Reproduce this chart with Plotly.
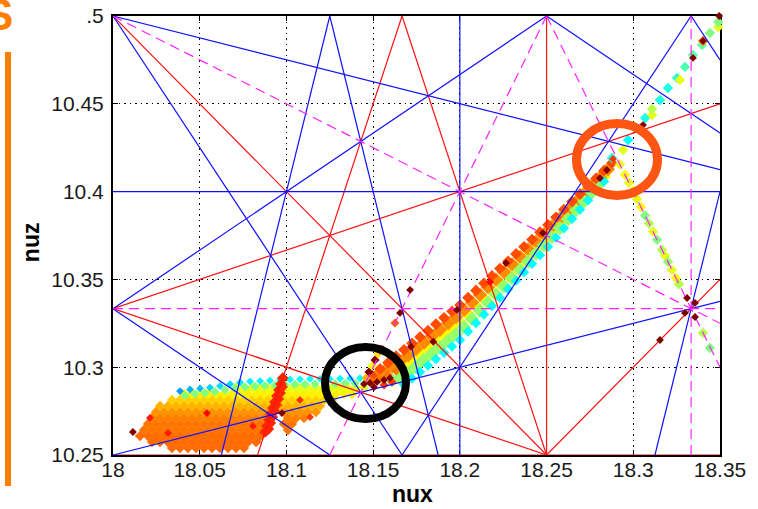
import plotly.graph_objects as go

# ---------------- axis ranges & ticks ----------------
NUX_RANGE = [18.0, 18.35]
NUZ_RANGE = [10.25, 10.5]
x_tickvals = [18.0, 18.05, 18.1, 18.15, 18.2, 18.25, 18.3, 18.35]
x_ticktext = ["18", "18.05", "18.1", "18.15", "18.2", "18.25", "18.3", "18.35"]
y_tickvals = [10.25, 10.3, 10.35, 10.4, 10.45, 10.5]
y_ticktext = ["10.25", "10.3", "10.35", "10.4", "10.45", ".5"]

# ---------------- resonance lines  m*nux + n*nuz = p ----------------
res_order3 = [(3, 0, 55), (0, 3, 31), (1, 2, 39), (2, 1, 47), (2, -1, 26)]
res_order4 = [(4, 0, 73), (0, 4, 41), (3, 1, 65), (3, -1, 44), (1, 3, 49),
              (1, -3, -13), (2, 2, 57), (2, -2, 16)]
res_order5 = [(5, 0, 91), (0, 5, 52), (4, 1, 83), (4, -1, 62), (4, -1, 63),
              (1, 4, 60), (1, -4, -23), (3, 2, 75), (3, 2, 76), (3, -2, 34),
              (2, 3, 67), (2, 3, 68), (2, -3, 5)]

# ---------------- frequency-map points (diffusion index 0..1, jet) -------------
# lower-left footprint: rows of constant nuz
blobA_row_nuz = [10.2540, 10.2574, 10.2608, 10.2642, 10.2677, 10.2711,
                 10.2745, 10.2779, 10.2813, 10.2847, 10.2882]
blobA_row_nux = [
    [18.0340, 18.0386, 18.0432, 18.0479, 18.0525, 18.0571, 18.0617, 18.0663, 18.0709, 18.0755],
    [18.0225, 18.0271, 18.0317, 18.0363, 18.0409, 18.0456, 18.0502, 18.0548, 18.0594, 18.0640,
     18.0686, 18.0732, 18.0778, 18.0825],
    [18.0156, 18.0202, 18.0248, 18.0294, 18.0340, 18.0386, 18.0432, 18.0479, 18.0525, 18.0571,
     18.0617, 18.0663, 18.0709, 18.0755, 18.0801, 18.0848],
    [18.0179, 18.0225, 18.0271, 18.0317, 18.0363, 18.0409, 18.0456, 18.0502, 18.0548, 18.0594,
     18.0640, 18.0686, 18.0732, 18.0778, 18.0825, 18.0871, 18.1009],
    [18.0202, 18.0248, 18.0294, 18.0340, 18.0386, 18.0432, 18.0479, 18.0525, 18.0571, 18.0617,
     18.0663, 18.0709, 18.0755, 18.0801, 18.0848, 18.0894, 18.0986, 18.1032],
    [18.0225, 18.0271, 18.0317, 18.0363, 18.0409, 18.0456, 18.0502, 18.0548, 18.0594, 18.0640,
     18.0686, 18.0732, 18.0778, 18.0825, 18.0871, 18.1009, 18.1055, 18.1101],
    [18.0248, 18.0294, 18.0340, 18.0386, 18.0432, 18.0479, 18.0525, 18.0571, 18.0617, 18.0663,
     18.0709, 18.0755, 18.0801, 18.0848, 18.0894, 18.0986, 18.1032, 18.1078, 18.1124, 18.1170],
    [18.0271, 18.0317, 18.0363, 18.0409, 18.0456, 18.0502, 18.0548, 18.0594, 18.0640, 18.0686,
     18.0732, 18.0778, 18.0825, 18.0871, 18.0917, 18.0963, 18.1009, 18.1055, 18.1101, 18.1147,
     18.1194],
    [18.0340, 18.0386, 18.0432, 18.0479, 18.0525, 18.0571, 18.0617, 18.0663, 18.0709, 18.0755,
     18.0801, 18.0848, 18.0894, 18.0940, 18.0986, 18.1032, 18.1078, 18.1124, 18.1170, 18.1217,
     18.1263],
    [18.0409, 18.0456, 18.0502, 18.0548, 18.0594, 18.0640, 18.0686, 18.0732, 18.0778, 18.0825,
     18.0871, 18.0917, 18.0963, 18.1009, 18.1055, 18.1101, 18.1147, 18.1194, 18.1240, 18.1286,
     18.1332, 18.1378],
    [18.0709, 18.0755, 18.0801, 18.0848, 18.0894, 18.0940, 18.0986, 18.1032, 18.1078, 18.1124,
     18.1170, 18.1217, 18.1263, 18.1309, 18.1355, 18.1401, 18.1447],
]
blobA_row_col = [0.77, 0.77, 0.77, 0.76, 0.76, 0.75, 0.73, 0.70, 0.67, 0.64, 0.60]

# upper edge of the footprint (cyan) and the row just below (green-yellow)
edge_nux = [18.0386, 18.0444, 18.0502, 18.0559, 18.0617, 18.0675, 18.0732, 18.0790, 18.0848, 18.0905,
            18.0963, 18.1021, 18.1078, 18.1136, 18.1194, 18.1251, 18.1309, 18.1367, 18.1424, 18.1482]
edge_nuz = [10.2864, 10.2873, 10.2879, 10.2884, 10.2893, 10.2904, 10.2913, 10.2919, 10.2921, 10.2924,
            10.2927, 10.2930, 10.2931, 10.2933, 10.2933, 10.2933, 10.2935, 10.2936, 10.2937, 10.2938]
edge_col = [0.28, 0.30, 0.31, 0.33, 0.34, 0.34, 0.35, 0.36, 0.36, 0.37,
            0.37, 0.38, 0.38, 0.38, 0.38, 0.38, 0.38, 0.38, 0.38, 0.36]
sub_nux = [18.0415, 18.0473, 18.0530, 18.0588, 18.0646, 18.0703, 18.0761, 18.0819, 18.0876, 18.0934,
           18.0992, 18.1049, 18.1107, 18.1165, 18.1222, 18.1280, 18.1338, 18.1395, 18.1453]
sub_nuz = [10.2839, 10.2847, 10.2853, 10.2860, 10.2870, 10.2880, 10.2887, 10.2891, 10.2894, 10.2897,
           10.2900, 10.2902, 10.2903, 10.2904, 10.2904, 10.2905, 10.2907, 10.2908, 10.2909]

# streak trapped on 3nux - nuz = 44
streak_nux = [18.0877, 18.0888, 18.0900, 18.0911, 18.0923, 18.0934, 18.0945, 18.0957, 18.0968, 18.0979,
              18.0896, 18.0907, 18.0918, 18.0930, 18.0941, 18.0953, 18.0964, 18.0975]
streak_nuz = [10.2631, 10.2665, 10.2699, 10.2733, 10.2768, 10.2802, 10.2836, 10.2870, 10.2904, 10.2938,
              10.2648, 10.2682, 10.2716, 10.2750, 10.2785, 10.2819, 10.2853, 10.2887]

# diagonal band (five lanes across its width)
band_even_nux = [18.1493, 18.1540, 18.1586, 18.1632, 18.1678, 18.1724, 18.1770, 18.1816, 18.1862, 18.1909,
                 18.1955, 18.2001, 18.2047, 18.2093, 18.2139, 18.2185, 18.2231, 18.2278, 18.2324, 18.2370,
                 18.2416, 18.2462, 18.2508, 18.2554, 18.2600, 18.2647, 18.2693, 18.2739, 18.2785, 18.2831,
                 18.2877]
lane0_nuz = [10.2953, 10.2990, 10.3026, 10.3063, 10.3099, 10.3136, 10.3172, 10.3208, 10.3245, 10.3281,
             10.3318, 10.3354, 10.3396, 10.3437, 10.3478, 10.3520, 10.3562, 10.3603, 10.3645, 10.3686,
             10.3727, 10.3769, 10.3810, 10.3854, 10.3898, 10.3943, 10.3986, 10.4031, 10.4075, 10.4119,
             10.4163]
lane2_nuz = [None, None, None, None, 10.2999, 10.3036, 10.3072, 10.3109, 10.3145, 10.3182,
             10.3218, 10.3255, 10.3300, 10.3345, 10.3389, 10.3434, 10.3479, 10.3524, 10.3569, 10.3613,
             10.3658, 10.3703, 10.3748, 10.3796, 10.3845, 10.3894, 10.3942, 10.3991, 10.4040, 10.4088,
             None]
lane4_nuz = [None, None, None, None, 10.2900, 10.2936, 10.2973, 10.3009, 10.3046, 10.3082,
             10.3118, 10.3155, 10.3203, 10.3252, 10.3300, 10.3348, 10.3396, 10.3445, 10.3493, 10.3541,
             10.3589, 10.3638, 10.3686, 10.3738, 10.3791, 10.3845, 10.3898, 10.3951, 10.4005, 10.4058,
             None]
band_odd_nux = [18.1516, 18.1563, 18.1609, 18.1655, 18.1701, 18.1747, 18.1793, 18.1839, 18.1885, 18.1932,
                18.1978, 18.2024, 18.2070, 18.2116, 18.2162, 18.2208, 18.2255, 18.2301, 18.2347, 18.2393,
                18.2439, 18.2485, 18.2531, 18.2577, 18.2624, 18.2670, 18.2716, 18.2762, 18.2808, 18.2854]
lane1_nuz = [10.2949, 10.2976, 10.3005, 10.3034, 10.3067, 10.3104, 10.3140, 10.3177, 10.3213, 10.3250,
             10.3286, 10.3326, 10.3369, 10.3412, 10.3456, 10.3499, 10.3542, 10.3585, 10.3628, 10.3671,
             10.3715, 10.3757, 10.3802, 10.3848, 10.3895, 10.3941, 10.3987, 10.4034, 10.4080, 10.4127]
lane3_nuz = [None, None, 10.2927, 10.2940, 10.2968, 10.3004, 10.3041, 10.3077, 10.3114, 10.3150,
             10.3187, 10.3228, 10.3275, 10.3321, 10.3368, 10.3415, 10.3461, 10.3507, 10.3554, 10.3601,
             10.3647, 10.3694, 10.3741, 10.3792, 10.3843, 10.3895, 10.3945, 10.3997, 10.4047, None]
lane_col = [0.80, 0.74, 0.63, 0.52, 0.38]

# junction inside the black circle and the streak along 2nux - nuz = 26
junction_nux = [18.1493, 18.1540, 18.1586, 18.1632, 18.1563, 18.1609,
                18.1459, 18.1476, 18.1493, 18.1511, 18.1528, 18.1545, 18.1626]
junction_nuz = [10.2917, 10.2936, 10.2957, 10.2978, 10.2899, 10.2916,
                10.2938, 10.2973, 10.3007, 10.3041, 10.3075, 10.3104, 10.3252]
junction_col = [0.76, 0.76, 0.76, 0.76, 0.82, 0.82,
                0.70, 1.00, 0.62, 1.00, 0.65, 0.80, 0.78]

# tail going up-right from the band tip
tailU_nux = [18.2877, 18.2941, 18.2970, 18.3068, 18.3108, 18.3108, 18.3154, 18.3200, 18.3252, 18.3269,
             18.3298, 18.3344, 18.3396, 18.3402, 18.3442, 18.3490, 18.3490]
tailU_nuz = [10.4191, 10.4237, 10.4294, 10.4419, 10.4436, 10.4470, 10.4522, 10.4590, 10.4647, 10.4636,
             10.4710, 10.4778, 10.4835, 10.4858, 10.4903, 10.4937, 10.4966]
tailU_col = [0.40, 0.60, 0.38, 0.40, 0.60, 0.55, 0.40, 0.40, 0.42, 0.60,
             0.45, 0.47, 0.47, 0.75, 0.50, 0.60, 0.50]

# tail going down-right along 2nux + nuz = 47
tailD_nux = [18.2923, 18.2952, 18.2975, 18.2998, 18.3021, 18.3044, 18.3068, 18.3091, 18.3114, 18.3137,
             18.3166, 18.3183, 18.3200, 18.3223, 18.3246, 18.3264, 18.3402, 18.3442]
tailD_nuz = [10.4154, 10.4096, 10.4050, 10.4004, 10.3958, 10.3912, 10.3864, 10.3818, 10.3772, 10.3726,
             10.3668, 10.3634, 10.3600, 10.3554, 10.3508, 10.3472, 10.3195, 10.3109]
tailD_col = [0.60, 0.62, 0.60, 0.62, 0.60, 0.62, 0.50, 0.55, 0.60, 0.50,
             0.55, 0.60, 0.52, 0.60, 0.62, 0.55, 0.55, 0.50]

# isolated strongly diffusive points
hot_nux = [18.0115, 18.0213, 18.0317, 18.0542, 18.0807, 18.0974, 18.1078, 18.1136,
           18.1447, 18.1482, 18.1522, 18.1563, 18.1505, 18.1597,
           18.1655, 18.1713, 18.1718, 18.1847, 18.1984, 18.2174, 18.2266, 18.2479,
           18.2808, 18.2848, 18.2883, 18.3056, 18.3344, 18.3402, 18.3495,
           18.3310, 18.3356, 18.3298, 18.3356, 18.3154]
hot_nuz = [10.2631, 10.2711, 10.2625, 10.2739, 10.2665, 10.2739, 10.2813, 10.2716,
           10.2904, 10.2910, 10.2916, 10.2927, 10.2887, 10.2938,
           10.3309, 10.3440, 10.3117, 10.3145, 10.3326, 10.3485, 10.3593, 10.3764,
           10.4077, 10.4123, 10.4186, 10.4379, 10.4761, 10.4858, 10.5000,
           10.3394, 10.3366, 10.3309, 10.3286, 10.3155]
hot_col = [1.00, 0.85, 0.85, 0.88, 0.85, 1.00, 0.83, 0.82,
           1.00, 1.00, 1.00, 1.00, 1.00, 1.00,
           1.00, 1.00, 1.00, 1.00, 1.00, 0.88, 1.00, 1.00,
           1.00, 1.00, 0.82, 1.00, 1.00, 1.00, 1.00,
           1.00, 1.00, 1.00, 1.00, 1.00]

# ---------------- styling ----------------
JET = [[0.0, "rgb(0,0,143)"], [0.125, "rgb(0,0,255)"], [0.375, "rgb(0,255,255)"],
       [0.625, "rgb(255,255,0)"], [0.875, "rgb(255,0,0)"], [1.0, "rgb(128,0,0)"]]
FONT = "Liberation Sans, Arial, Helvetica, sans-serif"

fig = go.Figure()


def add_pts(x, y, c, size, clip=True):
    fig.add_trace(go.Scatter(
        x=x, y=y, mode="markers", cliponaxis=clip, showlegend=False, hoverinfo="skip",
        marker=dict(symbol="diamond", size=size, color=c, colorscale=JET,
                    cmin=0, cmax=1, line=dict(width=0))))


# footprint rows
ax, ay, ac = [], [], []
for nz, row, col in zip(blobA_row_nuz, blobA_row_nux, blobA_row_col):
    for nx in row:
        ax.append(nx)
        ay.append(nz)
        ac.append(col)
add_pts(ax, ay, ac, 8)
add_pts(sub_nux, sub_nuz, [0.5] * len(sub_nux), 7)
add_pts(edge_nux, edge_nuz, edge_col, 6)

# band lanes
add_pts(band_even_nux, lane2_nuz, [lane_col[2]] * len(band_even_nux), 11)
add_pts(band_odd_nux, lane1_nuz, [lane_col[1]] * len(band_odd_nux), 11)
add_pts(band_odd_nux, lane3_nuz, [lane_col[3]] * len(band_odd_nux), 11)
add_pts(band_even_nux, lane0_nuz, [lane_col[0]] * len(band_even_nux), 9)
add_pts(band_even_nux, lane4_nuz, [lane_col[4]] * len(band_even_nux), 8)

add_pts(streak_nux, streak_nuz, [0.84] * len(streak_nux), 9)
add_pts(junction_nux, junction_nuz, junction_col, 7)
add_pts(tailU_nux, tailU_nuz, tailU_col, 8, clip=False)
add_pts(tailD_nux, tailD_nuz, tailD_col, 8)


# resonance lines clipped to the window
def segment(m, n, p):
    x0, x1 = NUX_RANGE
    y0, y1 = NUZ_RANGE
    pts = []
    if n != 0:
        for x in (x0, x1):
            y = (p - m * x) / n
            if y0 - 1e-9 <= y <= y1 + 1e-9:
                pts.append((x, y))
    if m != 0:
        for y in (y0, y1):
            x = (p - n * y) / m
            if x0 - 1e-9 <= x <= x1 + 1e-9:
                pts.append((x, y))
    uniq = []
    for pt in pts:
        if all(abs(pt[0] - q[0]) > 1e-7 or abs(pt[1] - q[1]) > 1e-7 for q in uniq):
            uniq.append(pt)
    if len(uniq) < 2:
        return None
    uniq.sort()
    return uniq[0], uniq[-1]


def add_lines(res, color, dash, width):
    xs, ys = [], []
    for m, n, p in res:
        s = segment(m, n, p)
        if s is None:
            continue
        xs += [s[0][0], s[1][0], None]
        ys += [s[0][1], s[1][1], None]
    fig.add_trace(go.Scatter(x=xs, y=ys, mode="lines", showlegend=False, hoverinfo="skip",
                             line=dict(color=color, width=width, dash=dash)))


add_lines(res_order4, "#FF1010", "solid", 1.2)
add_lines(res_order5, "#1010FF", "solid", 1.2)
add_lines(res_order3, "#FF20FF", "10px,6px", 1.2)

add_pts(hot_nux, hot_nuz, hot_col, 6, clip=False)

axis_common = dict(
    ticks="inside", ticklen=5, tickwidth=1, tickcolor="black",
    showline=True, linecolor="black", linewidth=2, mirror="ticks",
    showgrid=True, gridcolor="black", gridwidth=1, griddash="1.5px,4px",
    zeroline=False, layer="below traces", automargin=False,
    tickfont=dict(family=FONT, size=21, color="#1a1a1a"),
)

fig.update_layout(
    width=758, height=509,
    margin=dict(l=113, r=38, t=16, b=54, autoexpand=False),
    paper_bgcolor="white", plot_bgcolor="white",
    xaxis=dict(range=NUX_RANGE, tickmode="array", tickvals=x_tickvals, ticktext=x_ticktext,
               ticklabelstandoff=-5, **axis_common),
    yaxis=dict(range=NUZ_RANGE, tickmode="array", tickvals=y_tickvals, ticktext=y_ticktext,
               ticklabelstandoff=3, **axis_common),
    annotations=[
        dict(text="<b>nux</b>", xref="paper", yref="paper", x=0.494, y=-0.089,
             xanchor="center", yanchor="middle", showarrow=False,
             font=dict(family=FONT, size=23, color="black")),
        dict(text="<b>nuz</b>", xref="paper", yref="paper", x=-0.135, y=0.485,
             xanchor="center", yanchor="middle", textangle=-90, showarrow=False,
             font=dict(family=FONT, size=23, color="black")),
        dict(text="<b>S</b>", xref="paper", yref="paper", x=-0.1614, y=1.0023,
             xanchor="right", yanchor="middle", showarrow=False,
             font=dict(family=FONT, size=44, color="#FF7F00")),
    ],
    shapes=[
        dict(type="rect", xref="paper", yref="paper", x0=-0.1779, x1=-0.1680, y0=-0.0706, y1=0.918,
             fillcolor="#FF8000", line=dict(width=0), layer="above"),
        dict(type="circle", xref="x", yref="y", x0=18.12224, x1=18.16894, y0=10.27050, y1=10.31150,
             line=dict(color="black", width=8), layer="above"),
        dict(type="circle", xref="x", yref="y", x0=18.26726, x1=18.31396, y0=10.39778, y1=10.43878,
             line=dict(color="#FF5512", width=9), layer="above"),
    ],
)

fig.write_html(
    "out.html",
    config={"displayModeBar": False},
    post_script="document.body.style.margin='0';document.body.style.overflow='hidden';",
)
